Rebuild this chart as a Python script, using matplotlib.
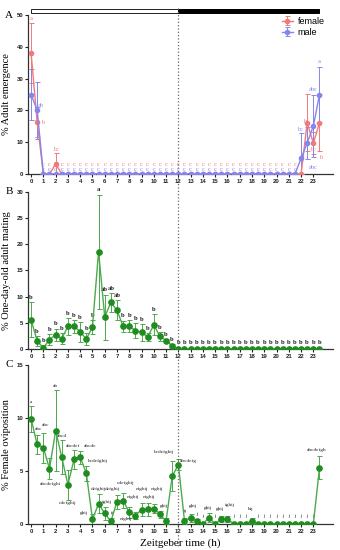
import numpy as np
import matplotlib.pyplot as plt
import matplotlib.transforms as mtransforms
from matplotlib.patches import Rectangle
from matplotlib.lines import Line2D

# time points, every half hour
zt = np.arange(0, 24, 0.5)

# A: adult emergence (%)
female = [38.0, 16.3, 0, 0, 3.2, 0, 0, 0, 0, 0, 0, 0, 0, 0, 0, 0, 0, 0, 0, 0, 0, 0, 0, 0,
          0, 0, 0, 0, 0, 0, 0, 0, 0, 0, 0, 0, 0, 0, 0, 0, 0, 0, 0, 0, 0, 16.1, 9.7, 16.1]
female_err = [9.5, 4.7, 0, 0, 3.3, 0, 0, 0, 0, 0, 0, 0, 0, 0, 0, 0, 0, 0, 0, 0, 0, 0, 0, 0,
              0, 0, 0, 0, 0, 0, 0, 0, 0, 0, 0, 0, 0, 0, 0, 0, 0, 0, 0, 0, 0, 9.0, 3.5, 9.0]
male = [25.0, 20.0, 0, 0, 0, 0, 0, 0, 0, 0, 0, 0, 0, 0, 0, 0, 0, 0, 0, 0, 0, 0, 0, 0,
        0, 0, 0, 0, 0, 0, 0, 0, 0, 0, 0, 0, 0, 0, 0, 0, 0, 0, 0, 0, 4.9, 9.8, 15.1, 25.0]
male_err = [8.0, 9.0, 0, 0, 0, 0, 0, 0, 0, 0, 0, 0, 0, 0, 0, 0, 0, 0, 0, 0, 0, 0, 0, 0,
            0, 0, 0, 0, 0, 0, 0, 0, 0, 0, 0, 0, 0, 0, 0, 0, 0, 0, 0, 0, 8.0, 5.0, 9.8, 8.5]

# B: one-day-old adult mating (%)
mating = [5.6, 1.5, 0.2, 1.8, 2.7, 2.0, 4.3, 4.3, 3.3, 1.9, 4.2, 18.6, 6.1, 8.9, 7.4, 4.3,
          4.4, 3.5, 3.2, 2.3, 4.6, 2.4, 1.6, 0.6, 0, 0, 0, 0, 0, 0, 0, 0,
          0, 0, 0, 0, 0, 0, 0, 0, 0, 0, 0, 0, 0, 0, 0, 0]
mating_err = [3.4, 1.0, 0.5, 1.1, 1.2, 1.0, 1.6, 1.2, 1.9, 1.1, 1.3, 10.9, 4.3, 1.8, 1.9, 1.1,
              1.1, 1.4, 1.6, 0.8, 2.0, 0.8, 0.3, 0.4, 0, 0, 0, 0, 0, 0, 0, 0,
              0, 0, 0, 0, 0, 0, 0, 0, 0, 0, 0, 0, 0, 0, 0, 0]
mating_lbl = ['b', 'b', 'b', 'b', 'b', 'b', 'b', 'b', 'b', 'b', 'b', 'a', 'ab', 'ab', 'ab', 'b',
              'b', 'b', 'b', 'b', 'b', 'b', 'b', 'b', 'b', 'b', 'b', 'b', 'b', 'b', 'b', 'b',
              'b', 'b', 'b', 'b', 'b', 'b', 'b', 'b', 'b', 'b', 'b', 'b', 'b', 'b', 'b', 'b']

# C: female oviposition (%)
ovi = [9.9, 7.5, 7.2, 5.2, 8.8, 6.3, 3.7, 6.1, 6.3, 4.8, 0.45, 1.9, 1.0, 0.25, 2.1, 2.2,
       1.1, 0.8, 1.35, 1.4, 1.45, 0.9, 0.3, 4.5, 5.6, 0.3, 0.55, 0.3, 0, 0.6, 0, 0.5,
       0.5, 0, 0, 0, 0.3, 0, 0, 0, 0, 0, 0, 0, 0, 0, 0, 5.3]
ovi_err = [1.2, 0.9, 1.4, 1.0, 3.8, 1.6, 1.4, 0.9, 0.6, 0.7, 0.5, 0.9, 0.6, 0.3, 0.65, 0.7,
           0.5, 0.3, 0.6, 0.6, 0.4, 0.3, 0.3, 1.4, 0.5, 0.3, 0.4, 0.2, 0, 0.4, 0, 0.3,
           0.3, 0, 0, 0, 0.3, 0, 0, 0, 0, 0, 0, 0, 0, 0, 0, 1.1]
ovi_lbl = ['a', 'abc', 'abc', 'abcdefghi', 'ab', 'abcd', 'cdefghij', 'abcdef', 'abcde',
           'bcdefghij', 'ghij', 'defghij', 'fghij', 'ij', 'defghij', 'cdefghij',
           'efghij', 'efghij', 'efghij', 'efghij', 'efghij', 'ghij', 'ij', 'bcdefghij',
           'abcdefg', 'ij', 'ghij', 'j', 'j', 'ghij', 'j', 'ghij', 'fghij', 'j', 'j', 'j',
           'hij', 'j', 'j', 'j', 'j', 'j', 'j', 'j', 'j', 'j', 'j', 'abcdefgh']

xticks = list(range(24))

red = '#f07a7a'
blue = '#8585ee'
green = '#1f8c1f'
lgreen = '#4caa4c'

plt.rcParams['font.family'] = 'Liberation Serif'
tickfont = dict(family='Liberation Sans', weight='bold', size=4.3)

fig = plt.figure(figsize=(3.4, 5.5), dpi=100)
axA = fig.add_axes([0.0824, 0.6836, 0.897, 0.2891])
axB = fig.add_axes([0.0824, 0.3655, 0.897, 0.2855])
axC = fig.add_axes([0.0824, 0.0473, 0.897, 0.2891])

for ax, top, step, lab in [(axA, 50, 10, '% Adult emergence'),
                           (axB, 30, 5, '% One-day-old adult mating'),
                           (axC, 15, 5, '% Female oviposition')]:
    ax.set_xlim(-0.25, 24.6)
    ax.set_ylim(0, top)
    ax.set_yticks(np.arange(0, top + 1, step))
    ax.set_xticks(xticks)
    ax.set_xticklabels([str(v) for v in xticks], fontdict=tickfont)
    ax.set_yticklabels([str(v) for v in np.arange(0, top + 1, step)], fontdict=tickfont)
    ax.tick_params(length=2, width=0.8, pad=1.5, colors='#222222')
    for s in ['top', 'right']:
        ax.spines[s].set_visible(False)
    for s in ['left', 'bottom']:
        ax.spines[s].set_linewidth(0.9)
        ax.spines[s].set_color('#333333')
    ax.set_ylabel(lab, fontsize=7.5)
    ax.yaxis.set_label_coords(-0.055, 0.5)
    ax.set_facecolor('none')

# panel A
axA.errorbar(zt, female, yerr=female_err, color=red, marker='o', ms=3, lw=1,
             elinewidth=0.7, capsize=1.8, capthick=0.7, label='female', zorder=3)
axA.errorbar(zt, male, yerr=male_err, color=blue, marker='o', ms=3, lw=1,
             elinewidth=0.7, capsize=1.8, capthick=0.7, label='male', zorder=3)
lf = 4.6
for i, x in enumerate(zt):
    if 2 <= i <= 43:
        axA.text(x, 1.3, 'c', color=blue, fontsize=lf, ha='center', va='center')
        if i != 4:
            axA.text(x, 3.0, 'c', color=red, fontsize=lf, ha='center', va='center')
axA.text(0, 49, 'a', color=red, fontsize=lf, ha='center', va='center')
axA.text(0.8, 21.5, 'ab', color=blue, fontsize=lf, ha='center', va='center')
axA.text(0.9, 16.3, 'b', color=red, fontsize=lf, ha='center', va='center')
axA.text(2, 7.8, 'bc', color=red, fontsize=lf, ha='center', va='center')
axA.text(21.9, 14.0, 'bc', color=blue, fontsize=lf, ha='center', va='center')
axA.text(22.3, 16.5, 'b', color=red, fontsize=lf, ha='center', va='center')
axA.text(23.0, 26.5, 'abc', color=blue, fontsize=lf, ha='center', va='center')
axA.text(23.0, 7.8, 'bc', color=red, fontsize=lf, ha='center', va='center')
axA.text(22.95, 2.2, 'abc', color=blue, fontsize=lf, ha='center', va='center')
axA.text(23.5, 35.5, 'a', color=blue, fontsize=lf, ha='center', va='center')
axA.text(23.6, 5.2, 'b', color=red, fontsize=lf, ha='center', va='center')
axA.legend(loc='upper right', bbox_to_anchor=(1.0, 1.04), frameon=False,
           prop=dict(family='Liberation Sans', size=6.5), handlelength=1.3,
           handletextpad=0.5, labelspacing=0.25)

# panel B
axB.errorbar(zt, mating, yerr=mating_err, color=lgreen, marker='o', ms=3.8, mfc=green,
             mec=green, lw=1, elinewidth=0.7, capsize=1.8, capthick=0.7, zorder=3)
for i, x in enumerate(zt):
    y = mating[i] + mating_err[i] + 0.9
    if mating[i] == 0:
        y = 1.3
    axB.text(x, y, mating_lbl[i], fontsize=4.8, fontweight='bold', color='#222222',
             ha='center', va='center')

# panel C
axC.errorbar(zt, ovi, yerr=ovi_err, color=lgreen, marker='o', ms=3.8, mfc=green,
             mec=green, lw=1, elinewidth=0.7, capsize=1.8, capthick=0.7, zorder=3)
# hand placed letters where the default (above the error bar) would collide
place = {1: (0.6, 9.0), 2: (1.15, 9.35), 3: (1.6, 3.8), 6: (3.0, 2.0), 7: (3.45, 7.4),
         8: (4.8, 7.4), 9: (5.45, 5.9), 10: (4.3, 1.0), 11: (5.45, 3.3), 12: (6.2, 2.1),
         13: (6.6, 1.0), 14: (6.65, 3.3), 15: (7.7, 3.85), 16: (7.7, 0.45),
         17: (8.3, 2.5), 18: (9.0, 3.3), 19: (9.6, 2.5), 20: (10.3, 3.3), 21: (10.8, 1.7),
         22: (11.05, 0.3), 23: (10.8, 6.75), 24: (12.8, 5.9), 25: (12.55, 1.2),
         26: (13.2, 1.65), 29: (14.45, 1.5), 31: (15.35, 1.45), 32: (16.2, 1.8),
         36: (17.9, 1.4), 47: (23.3, 7.0)}
for i, x in enumerate(zt):
    if i in place:
        px, py = place[i]
    elif ovi[i] == 0:
        px, py = x, 0.8
    else:
        px, py = x, ovi[i] + ovi_err[i] + 0.4
    axC.text(px, py, ovi_lbl[i], fontsize=3.8, color='#222222', ha='center', va='center')
axC.set_xlabel('Zeitgeber time (h)', fontsize=8, labelpad=3)

# panel letters
for ax, s in [(axA, 'A'), (axB, 'B'), (axC, 'C')]:
    ax.text(-0.05, 1.0, s, transform=ax.transAxes, fontsize=8, ha='right', va='center')

# light / dark bar and lights-off line
tr = mtransforms.blended_transform_factory(axA.transData, fig.transFigure)
fig.patches.append(Rectangle((0, 0.9755), 12, 0.009, transform=tr, facecolor='white',
                             edgecolor='#222222', lw=0.7))
fig.patches.append(Rectangle((12, 0.9755), 11.5, 0.009, transform=tr, facecolor='black',
                             edgecolor='black', lw=0.7))
fig.add_artist(Line2D([12, 12], [0.985, 0.008], transform=tr, color='#666666',
                      ls=':', lw=0.9))

fig.savefig('out.png', dpi=100)
